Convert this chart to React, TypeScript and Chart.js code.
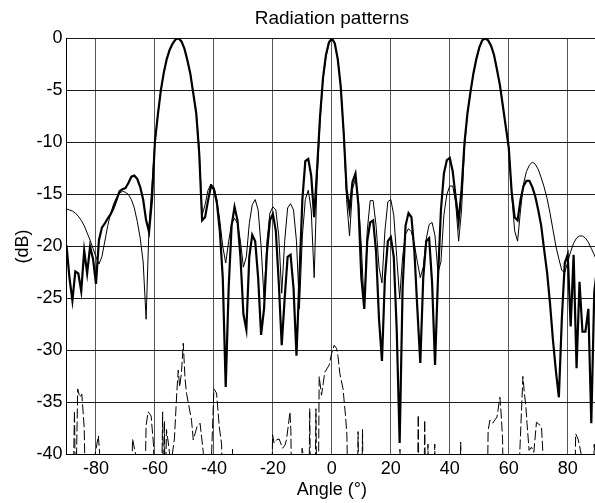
import React, { useEffect, useRef } from "react";
import { Chart, registerables } from "chart.js";

Chart.register(...registerables);

const chartTitle = "Radiation patterns";
const xAxisTitle = "Angle (°)";
const yAxisTitle = "(dB)";

const angleStart = -90;
const angleStep = 1;

// Measured pattern (thick line), -90° .. 90° every 1°
const measuredDb = [
  -19.9, -23, -25.2, -22.4, -22.6, -24.3, -20.4, -22.6, -20, -21.2,
  -23.6, -19.4, -18.2, -17.8, -17.3, -16.9, -16.3, -15.5, -14.7, -14.5,
  -14.4, -13.9, -13.3, -13.2, -13.5, -14.3, -15.5, -17.5, -18.6, -15.5,
  -9.9, -7.3, -5, -3.3, -2, -1.1, -0.5, -0.1, 0, -0.3,
  -1, -2.1, -3.4, -5.3, -7.2, -11, -17.5, -17.2, -15.6, -14.2,
  -14.5, -15.8, -18.5, -23, -33.5, -24, -18, -16.2, -17.5, -21,
  -26.5, -28, -21, -18.9, -19.5, -23, -28.5, -26, -20.5, -17.5,
  -16.9, -18.5, -23.5, -29.5, -25, -21, -20.8, -24, -30.5, -23,
  -15.5, -11.8, -11.6, -13.2, -17.2, -12.5, -7.5, -3.8, -1.6, -0.4,
  0, -0.5, -2, -4.6, -9, -14.5, -16.5, -13.8, -13, -16,
  -23, -26, -19.5, -17.7, -17.5, -20.5, -27, -31, -23, -19.5,
  -19.1, -21, -28, -38.9, -24, -18, -16.8, -17.2, -20.5, -26,
  -31.2, -23, -19.5, -19.2, -23.5, -31.4, -23, -16.5, -13, -11.7,
  -11.5, -12.8, -15.3, -17.6, -14.5, -10, -7.2, -5.2, -3.4, -2,
  -0.9, -0.2, 0, -0.2, -0.7, -1.6, -3, -4.5, -6.5, -8.5,
  -10.5, -14.8, -17.2, -17.5, -15.5, -14.2, -13.7, -13.7, -14.3, -15.2,
  -16.5, -18, -20.3, -22.5, -25.5, -29, -32, -34.5, -27, -21.6,
  -20.8, -27.7, -20.8, -31.7, -23.4, -28.2, -28.2, -26, -37, -24.4,
  -22,
];

// Simulated pattern (thin line), -90° .. 90° every 1°
const simulatedDb = [
  -16.4, -16.5, -16.6, -16.8, -17.1, -17.5, -18, -18.7, -19.4, -20.2,
  -21, -21.7, -21, -19.5, -18, -16.8, -15.9, -15.3, -14.9, -14.7,
  -14.8, -15, -15.5, -16.3, -17.6, -19.2, -21.5, -27, -18, -14,
  -9.9, -7.3, -5, -3.3, -2, -1.1, -0.5, -0.1, 0, -0.3,
  -1, -2.1, -3.4, -5.3, -7.2, -10.5, -17, -16, -14.6, -14,
  -14.3, -15.5, -17.5, -20, -21.6, -19.5, -17.8, -17.3, -17.8, -19.5,
  -22, -21, -17.8, -16, -15.5, -16.5, -20, -25, -19.5, -16.8,
  -16.2, -16.5, -19, -24.5, -19.5, -16.3, -15.9, -16.5, -19.5, -26,
  -19, -15.5, -14.6, -16.5, -23, -13.5, -8, -4, -1.8, -0.5,
  0, -0.5, -2, -4.6, -9, -15.5, -19, -14.5, -13.5, -15.5,
  -20, -26, -18.5, -15.6, -15.6, -18, -22, -23.5, -18.5, -15.7,
  -15.5, -17, -21, -25, -21, -18.8, -18.3, -18.6, -19.8, -21.5,
  -23, -22, -19.3, -17.9, -17.7, -19, -22.5, -21.5, -17, -15,
  -14.2, -14.2, -15.8, -19.5, -16.5, -10.5, -7.2, -5.2, -3.4, -2,
  -0.9, -0.2, 0, -0.2, -0.7, -1.6, -3, -4.5, -6.5, -8.5,
  -10.5, -15, -18.5, -19.5, -16.5, -14, -12.8, -12.2, -11.9, -12.1,
  -12.6, -13.4, -14.3, -15.4, -16.8, -18.4, -20, -21.2, -22.3, -22.5,
  -21.5, -20.5, -19.7, -19.2, -19, -19, -19.2, -19.6, -20.2, -20.8,
  -21.5,
];

const angles = measuredDb.map((_, i) => angleStart + i * angleStep);

// Low-level (dashed) residual curve, irregular sampling
const residualAngles = [
  -90, -87.8, -87.3, -86.9, -86.2, -85.5, -84.8, -84, -83.5, -80.6,
  -80.3, -79.2, -78.6, -78.2, -68, -67.6, -66.2, -65.8, -63.5, -63,
  -62.3, -61.3, -60.5, -60, -57.8, -57.4, -57.1, -56.8, -56.5, -56.1,
  -55.5, -54.6, -53.4, -52.6, -52.1, -51.6, -51, -50.4, -49.8, -49.3,
  -47.6, -47, -45.7, -44.7, -43.6, -43.2, -41.2, -40.8, -40, -39.1,
  -38.2, -37.4, -37, -34, -33.7, -33.4, -20.5, -20.1, -19.6, -18.8,
  -17.9, -16.7, -15.9, -15.4, -14.8, -14.2, -13.9, -13.6, -10.5, -10.1,
  -9.5, -9.2, -7.8, -7.5, -7.2, -5.7, -5.4, -5.1, -4.6, -4.3,
  -3.5, -2.4, -0.9, -0.1, 0.8, 1.6, 2.1, 2.7, 3.8, 4.7,
  5.1, 5.5, 8.6, 8.9, 9.2, 10.1, 10.4, 10.7, 22.8, 23.1,
  23.5, 29, 29.3, 29.6, 31.2, 31.5, 31.8, 32.3, 32.6, 32.9,
  34.6, 34.9, 35.2, 43.4, 43.7, 44, 52.7, 53, 53.6, 54.5,
  56, 57, 57.5, 57.9, 58.3, 63, 64.3, 64.8, 65.2, 65.8,
  66.2, 66.9, 67.7, 68.5, 69.4, 71.1, 71.6, 72, 82.3, 82.7,
  83.5, 84.6, 85, 88.5, 89, 89.5, 90,
];
const residualDb = [
  -45, -45, -35.8, -45, -33.7, -34.5, -34.2, -37.4, -45, -45,
  -40, -38.2, -40.5, -45, -45, -38.5, -40.5, -45, -45, -37.2,
  -35.9, -36.3, -39, -45, -45, -35.9, -45, -36.8, -45, -37.6,
  -38.8, -41, -38.5, -34.1, -31.9, -33.5, -32.1, -29.3, -32.7, -34.1,
  -36.7, -38.6, -37.3, -37, -39.8, -45, -45, -40, -33.7, -34.1,
  -37.3, -39, -45, -45, -39.5, -45, -45, -38.1, -38.9, -38.6,
  -38.5, -39.4, -39.1, -38.6, -37.3, -35.9, -37.7, -45, -45, -39.4,
  -40.3, -45, -45, -35.6, -45, -45, -35.6, -45, -45, -32.5,
  -34.3, -32.1, -31.4, -30.3, -29.5, -29.8, -30.6, -32.2, -33.7, -36.5,
  -38.1, -45, -45, -37.8, -45, -45, -37.6, -45, -45, -39.5,
  -45, -45, -36.2, -45, -45, -36.7, -45, -45, -39, -45,
  -45, -39, -45, -45, -38.8, -45, -45, -37.7, -36.7, -37,
  -36.4, -34.5, -36.4, -38.5, -45, -45, -35.9, -32.5, -33.8, -35.4,
  -37, -39.6, -39.3, -39.8, -36.9, -37.3, -40, -45, -45, -38,
  -38.5, -40, -45, -45, -39, -45, -45,
];

const xTicks = [-80, -60, -40, -20, 0, 20, 40, 60, 80];
const yTicks = [0, -5, -10, -15, -20, -25, -30, -35, -40];

const FONT = '"Liberation Sans", Arial, Helvetica, sans-serif';

export default function App() {
  const ref = useRef<HTMLCanvasElement>(null);

  useEffect(() => {
    const canvas = ref.current;
    if (!canvas) return;

    const titlePlugin = {
      id: "plotTitle",
      afterDraw(chart: any) {
        const { ctx, chartArea } = chart;
        ctx.save();
        ctx.font = `19px ${FONT}`;
        ctx.fillStyle = "#000";
        ctx.textAlign = "center";
        ctx.textBaseline = "alphabetic";
        ctx.fillText(chartTitle, (chartArea.left + chartArea.right) / 2, 24);
        ctx.restore();
      },
    };

    const chart = new Chart(canvas, {
      type: "line",
      data: {
        datasets: [
          {
            label: "residual",
            data: residualAngles.map((a, i) => ({ x: a, y: residualDb[i] })),
            borderColor: "#000",
            borderWidth: 1,
            borderDash: [10, 3],
            pointRadius: 0,
            tension: 0,
          },
          {
            label: "simulated",
            data: angles.map((a, i) => ({ x: a, y: simulatedDb[i] })),
            borderColor: "#000",
            borderWidth: 1,
            pointRadius: 0,
            tension: 0,
          },
          {
            label: "measured",
            data: angles.map((a, i) => ({ x: a, y: measuredDb[i] })),
            borderColor: "#000",
            borderWidth: 2.2,
            pointRadius: 0,
            tension: 0,
          },
        ],
      },
      options: {
        responsive: false,
        animation: false,
        devicePixelRatio: 1,
        layout: { padding: { top: 38.3, right: 2.8, left: 0, bottom: 0 } },
        plugins: {
          legend: { display: false },
          tooltip: { enabled: false },
          title: { display: false },
        },
        scales: {
          x: {
            type: "linear",
            min: -90,
            max: 90,
            afterBuildTicks: (s: any) => {
              s.ticks = xTicks.map((v) => ({ value: v }));
            },
            afterFit: (s: any) => {
              s.height = 48.5;
            },
            grid: { color: "#555", lineWidth: 1, drawTicks: false },
            border: { color: "#000", width: 1 },
            ticks: {
              padding: 4,
              color: "#000",
              font: { family: FONT, size: 18 },
              maxRotation: 0,
              autoSkip: false,
            },
            title: {
              display: true,
              text: xAxisTitle,
              color: "#000",
              font: { family: FONT, size: 18 },
              padding: { top: 0, bottom: 2.5 },
            },
          },
          y: {
            type: "linear",
            min: -40,
            max: 0,
            afterBuildTicks: (s: any) => {
              s.ticks = yTicks.map((v) => ({ value: v }));
            },
            afterFit: (s: any) => {
              s.width = 66.5;
            },
            grid: { color: "#1a1a1a", lineWidth: 1, drawTicks: false },
            border: { color: "#000", width: 1 },
            ticks: {
              padding: 4,
              color: "#000",
              font: { family: FONT, size: 18 },
            },
            title: {
              display: true,
              text: yAxisTitle,
              color: "#000",
              font: { family: FONT, size: 18 },
              padding: { top: 12, bottom: 0 },
            },
          },
        },
      },
      plugins: [titlePlugin],
    });

    return () => chart.destroy();
  }, []);

  return (
    <div
      style={{
        position: "fixed",
        left: 0,
        top: 0,
        width: 595,
        height: 503,
        overflow: "hidden",
        background: "#fff",
      }}
    >
      <canvas
        ref={ref}
        width={600}
        height={503}
        style={{ display: "block", width: 600, height: 503 }}
      />
    </div>
  );
}
